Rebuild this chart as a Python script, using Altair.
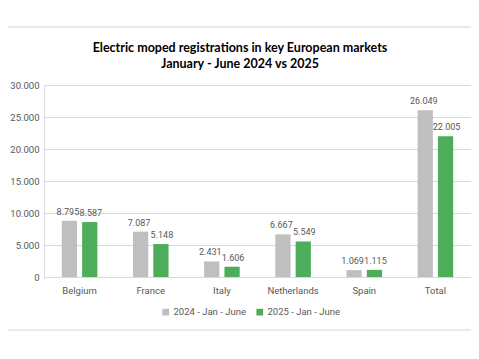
import altair as alt
import pandas as pd

countries = ["Belgium", "France", "Italy", "Netherlands", "Spain", "Total"]
values_2024 = [8795, 7087, 2431, 6667, 1069, 26049]
values_2025 = [8587, 5148, 1606, 5549, 1115, 22005]
series = ["2024 - Jan - June", "2025 - Jan - June"]
colors = ["#BFBFBF", "#4EAD5B"]
y_ticks = [0, 5000, 10000, 15000, 20000, 25000, 30000]
title_lines = ["Electric moped registrations in key European markets", "January - June 2024 vs 2025"]

rows = []
for c, a, b in zip(countries, values_2024, values_2025):
    rows.append({"country": c, "series": series[0], "value": a})
    rows.append({"country": c, "series": series[1], "value": b})
df = pd.DataFrame(rows)

FONT = "Roboto"
GRAY = "#595959"

base = alt.Chart(df).transform_calculate(
    label="replace(format(datum.value, ','), ',', '.')"
).encode(
    x=alt.X("country:N", sort=countries, title=None,
            scale=alt.Scale(paddingInner=0.5, paddingOuter=0.25),
            axis=alt.Axis(labelAngle=0, labelColor=GRAY, labelFont=FONT, labelFontSize=9.5,
                          ticks=False, domainColor="#D9D9D9", labelPadding=8)),
    xOffset=alt.XOffset("series:N", sort=series, scale=alt.Scale(paddingInner=0.25)),
    y=alt.Y("value:Q", title=None,
            scale=alt.Scale(domain=[0, 30000]),
            axis=alt.Axis(values=y_ticks, labelExpr="replace(format(datum.value, ','), ',', '.')",
                          labelColor=GRAY, labelFont=FONT, labelFontSize=9.5, labelOverlap=False,
                          ticks=False, domain=False, gridColor="#D9D9D9", labelPadding=5)),
)

bars = base.mark_bar().encode(
    color=alt.Color("series:N", sort=series, scale=alt.Scale(domain=series, range=colors),
                    legend=alt.Legend(title=None, orient="none", direction="horizontal",
                                      legendX=117, legendY=222, symbolType="square",
                                      symbolSize=45, symbolStrokeWidth=0,
                                      labelFont=FONT, labelFontSize=9.5, labelColor=GRAY,
                                      columnPadding=9, labelOffset=3)),
)

labels_a = base.mark_text(dy=-9, dx=-1.5, font=FONT, fontSize=9, color=GRAY).encode(
    text="label:N",
).transform_filter(alt.datum.series == series[0])
labels_b = base.mark_text(dy=-9, dx=1, font=FONT, fontSize=9, color=GRAY).encode(
    text="label:N",
).transform_filter(alt.datum.series == series[1])

one = pd.DataFrame({"k": [0]})
border_top = alt.Chart(one).mark_rule(color="#E3E3E3", strokeWidth=1.5).encode(
    x=alt.value(-50), x2=alt.value(480), y=alt.value(-58)
)
border_bottom = alt.Chart(one).mark_rule(color="#E3E3E3", strokeWidth=1.5).encode(
    x=alt.value(-50), x2=alt.value(480), y=alt.value(245)
)

title1 = alt.Chart(one).mark_text(font="Lato", fontSize=12.5, fontWeight="bold", color="#000000",
                                  align="center", baseline="middle").encode(
    x=alt.value(196), y=alt.value(-37), text=alt.value(title_lines[0])
)
title2 = alt.Chart(one).mark_text(font="Lato", fontSize=12.5, fontWeight="bold", color="#000000",
                                  align="center", baseline="middle").encode(
    x=alt.value(196), y=alt.value(-21), text=alt.value(title_lines[1])
)

chart = alt.layer(border_top, border_bottom, title1, title2, bars, labels_a, labels_b).properties(
    width=427, height=192,
    autosize=alt.AutoSizeParams(type="none"),
    padding={"left": 36, "top": 77, "right": 0, "bottom": 66},
).configure_view(stroke=None).configure(background="white")

chart.save("out.html", embed_options={"renderer": "svg", "actions": False})
